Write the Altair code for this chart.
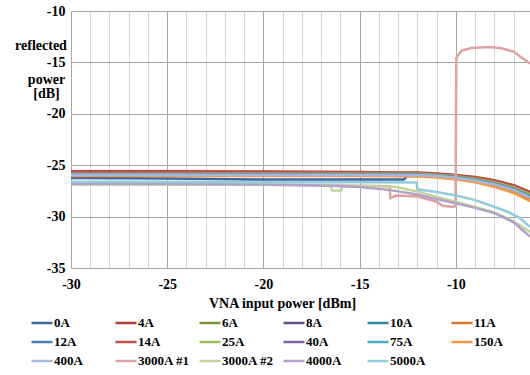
import altair as alt
import pandas as pd

SERIES = ["0A", "4A", "6A", "8A", "10A", "11A", "12A", "14A", "25A", "40A",
          "75A", "150A", "400A", "3000A #1", "3000A #2", "4000A", "5000A"]
COLORS = ["#3C679F", "#AA3F3B", "#77943A", "#66508A", "#31859C", "#D97A31",
          "#4A7DBA", "#C0504D", "#9BBB59", "#8064A2", "#4BACC6", "#F79646",
          "#A5B8D9", "#DDA3A2", "#C2D69B", "#B3A2C7", "#93CDDD"]

X_BAND = [-30, -25, -20, -15, -13, -12, -11, -10, -9, -8, -7, -6.15]

X_0A = [-30, -25, -20, -15, -12.7, -12.5, -11, -10, -9, -8, -7, -6.15]
Y_0A = [-26.25, -26.3, -26.4, -26.4, -26.38, -26.0, -26.02, -26.18, -26.45, -26.8, -27.32, -28.0]
Y_4A = [-25.6, -25.6, -25.62, -25.65, -25.7, -25.72, -25.8, -25.95, -26.15, -26.45, -26.95, -27.6]
Y_6A = [-25.78, -25.78, -25.78, -25.78, -25.78, -25.8, -25.9, -26.05, -26.28, -26.6, -27.1, -27.75]
Y_8A = [-25.85, -25.85, -25.85, -25.85, -25.86, -25.88, -25.97, -26.12, -26.38, -26.72, -27.22, -27.92]
Y_10A = [-25.8, -25.8, -25.8, -25.8, -25.82, -25.85, -25.95, -26.1, -26.35, -26.7, -27.2, -27.88]
Y_11A = [-26.0, -26.0, -26.0, -26.0, -26.02, -26.05, -26.12, -26.3, -26.55, -26.95, -27.5, -28.3]
Y_12A = [-25.72, -25.72, -25.75, -25.78, -25.8, -25.85, -25.95, -26.1, -26.35, -26.7, -27.2, -27.88]
Y_14A = [-25.65, -25.65, -25.67, -25.7, -25.75, -25.77, -25.85, -26.0, -26.22, -26.52, -27.02, -27.68]
Y_25A = [-25.82, -25.82, -25.82, -25.82, -25.82, -25.84, -25.93, -26.08, -26.32, -26.65, -27.15, -27.82]
Y_40A = [-25.88, -25.88, -25.88, -25.88, -25.88, -25.9, -26.0, -26.15, -26.42, -26.78, -27.28, -28.0]
Y_75A = [-25.9, -25.9, -25.9, -25.9, -25.9, -25.92, -26.02, -26.18, -26.45, -26.82, -27.33, -28.05]
Y_150A = [-26.05, -26.05, -26.05, -26.05, -26.08, -26.1, -26.2, -26.38, -26.65, -27.1, -27.7, -28.5]
Y_400A = [-25.95, -25.95, -25.95, -25.95, -25.95, -25.97, -26.05, -26.22, -26.5, -26.88, -27.4, -28.15]

X_3000A1 = [-30, -25, -20, -15, -13.45, -13.4, -13.1, -12, -11, -10.7, -10.2, -10.02,
            -9.98, -9.85, -9.7, -9.2, -8.3, -7.7, -7.0, -6.65, -6.15]
Y_3000A1 = [-26.85, -26.85, -26.9, -27.0, -27.05, -28.2, -27.95, -28.05, -28.55, -28.95, -29.05, -29.0,
            -14.6, -14.2, -13.85, -13.6, -13.5, -13.6, -13.95, -14.45, -15.1]

X_3000A2 = [-30, -25, -20, -17, -16.5, -16.45, -15.95, -15.9, -15, -13.2, -12, -11, -10, -9, -8, -7, -6.15]
Y_3000A2 = [-26.88, -26.88, -26.9, -26.92, -26.92, -27.45, -27.45, -27.05, -27.05, -27.1, -27.55, -28.1,
            -28.55, -29.05, -29.6, -30.45, -31.5]

X_4000A = [-30, -25, -20, -17, -15, -13.5, -12, -11, -10, -9, -8, -7, -6.15]
Y_4000A = [-26.8, -26.82, -26.88, -26.98, -27.12, -27.4, -27.85, -28.3, -28.7, -29.15, -29.65, -30.55, -31.95]

X_5000A = [-30, -25, -20, -15, -12.05, -12.0, -11, -10, -9, -8.6, -7.35, -6.7, -6.15]
Y_5000A = [-26.62, -26.62, -26.65, -26.65, -26.68, -27.35, -27.6, -27.95, -28.4, -28.65, -29.5, -30.1, -31.0]

PAIRS = [
    ("0A", X_0A, Y_0A), ("4A", X_BAND, Y_4A), ("6A", X_BAND, Y_6A), ("8A", X_BAND, Y_8A),
    ("10A", X_BAND, Y_10A), ("11A", X_BAND, Y_11A), ("12A", X_BAND, Y_12A), ("14A", X_BAND, Y_14A),
    ("25A", X_BAND, Y_25A), ("40A", X_BAND, Y_40A), ("75A", X_BAND, Y_75A), ("150A", X_BAND, Y_150A),
    ("400A", X_BAND, Y_400A), ("3000A #1", X_3000A1, Y_3000A1), ("3000A #2", X_3000A2, Y_3000A2),
    ("4000A", X_4000A, Y_4000A), ("5000A", X_5000A, Y_5000A),
]

rows = []
for name, xs, ys in PAIRS:
    for i, (xv, yv) in enumerate(zip(xs, ys)):
        rows.append({"series": name, "x": xv, "y": yv, "i": i})
df = pd.DataFrame(rows)

FONT = "'Liberation Serif', 'Times New Roman', Times, 'DejaVu Serif', serif"

chart = alt.Chart(df).mark_line(strokeWidth=2.5, clip=True).encode(
    x=alt.X("x:Q",
            scale=alt.Scale(domain=[-30, -6.15], nice=False, zero=False),
            axis=alt.Axis(values=list(range(-30, -6)),
                          labelExpr="datum.value % 5 === 0 ? '' + datum.value : ''",
                          labelOverlap=False, labelFlush=False,
                          grid=True,
                          gridColor={"condition": {"test": "datum.value % 5 === 0", "value": "#A6A6A6"},
                                     "value": "#D4D4D4"},
                          ticks=False, domain=False,
                          labelPadding=9, labelFont=FONT, labelFontSize=14, labelFontWeight="bold",
                          labelColor="#000000",
                          title="VNA input power [dBm]", titleFont=FONT, titleFontSize=14,
                          titleFontWeight="bold", titleColor="#000000",
                          titleX=211, titleY=35, titleBaseline="middle")),
    y=alt.Y("y:Q",
            scale=alt.Scale(domain=[-35, -10], nice=False, zero=False),
            axis=alt.Axis(values=[-35, -30, -25, -20, -15, -10],
                          labelExpr="'' + datum.value",
                          grid=True, gridColor="#A6A6A6",
                          ticks=False, domain=False,
                          labelPadding=6, labelFont=FONT, labelFontSize=14, labelFontWeight="bold",
                          labelColor="#000000",
                          title=["power", "[dB]"],
                          titleFont=FONT, titleFontSize=14, titleFontWeight="bold", titleColor="#000000",
                          titleAngle=0, titleAlign="center", titleBaseline="top",
                          titleX=-25, titleY=61, titleLineHeight=14)),
    color=alt.Color("series:N",
                    scale=alt.Scale(domain=SERIES, range=COLORS),
                    sort=SERIES,
                    legend=alt.Legend(title=None, orient="none", legendX=-41, legendY=300,
                                      direction="horizontal",
                                      columns=6, gridAlign="all", columnPadding=4, rowPadding=-1,
                                      symbolType="stroke", symbolSize=441, symbolStrokeWidth=2.5,
                                      labelFont=FONT, labelFontSize=13, labelFontWeight="bold",
                                      labelColor="#000000", labelOffset=0)),
    order=alt.Order("i:Q"),
).properties(
    width=459,
    height=257,
    title=alt.TitleParams(text="reflected", orient="top", anchor="start", frame="group",
                          align="center", baseline="middle", offset=0, dx=-30, dy=56,
                          font=FONT, fontSize=14, fontWeight="bold", color="#000000"),
    autosize=alt.AutoSizeParams(type="none"),
    padding={"left": 71, "top": 11, "right": 0, "bottom": 107},
    background="#FFFFFF",
).configure_view(strokeWidth=0)

chart.save("out.html", embed_options={"renderer": "svg", "actions": False})
